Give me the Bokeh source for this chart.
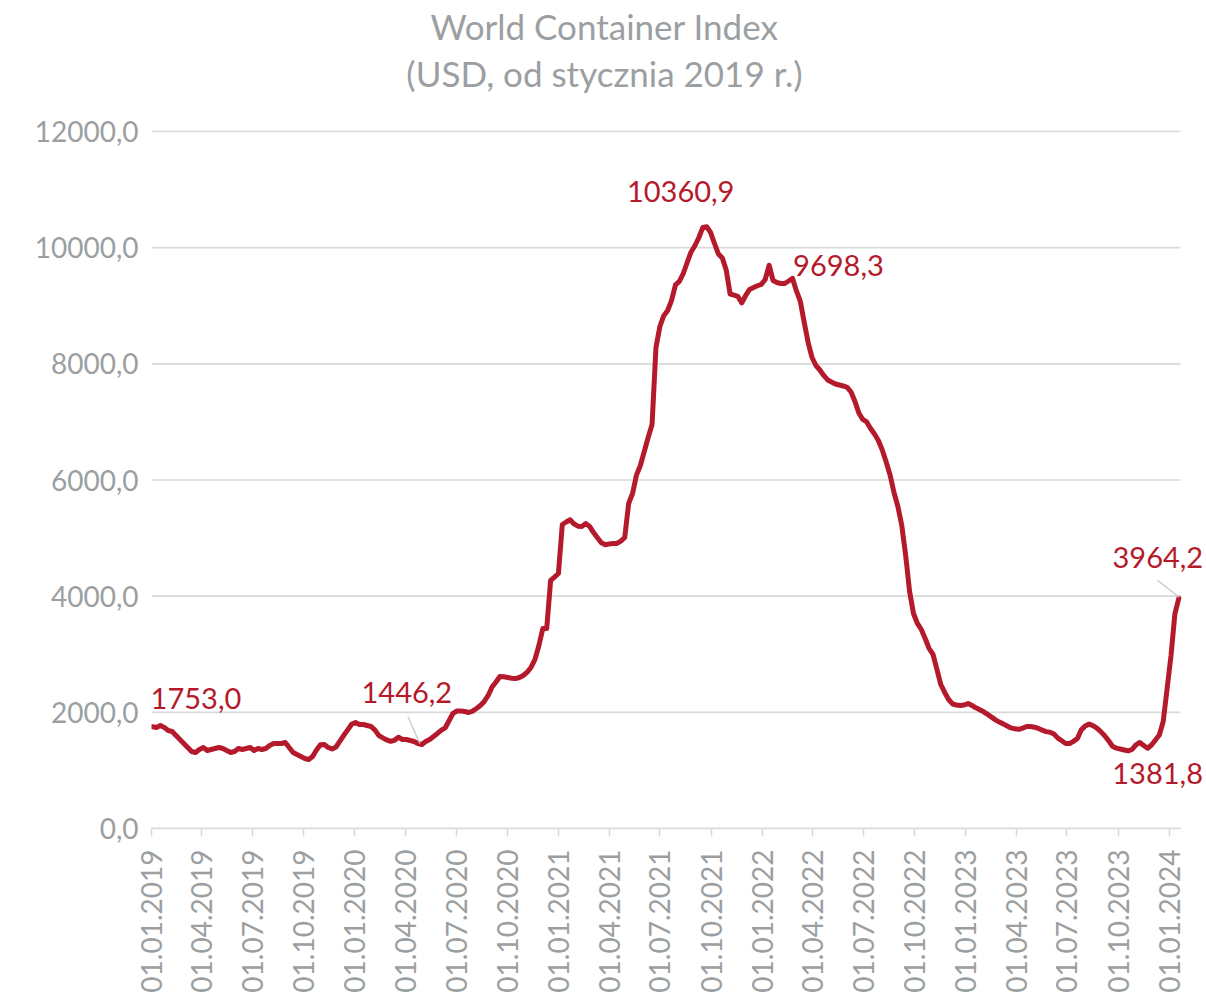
import math
import pandas as pd
from bokeh.plotting import figure
from bokeh.models import ColumnDataSource, Range1d, FixedTicker, DatetimeTickFormatter, Label
from bokeh.embed import file_html
from bokeh.resources import INLINE

# ---------------- data ----------------
title_line1 = "World Container Index"
title_line2 = "(USD, od stycznia 2019 r.)"

first_week = "2019-01-03"   # weekly readings (Thursdays)

wci_2019 = [1753.0, 1740, 1773, 1740, 1687, 1670, 1600, 1532, 1463, 1395, 1325, 1308, 1360,
            1395, 1343, 1360, 1377, 1395, 1377, 1343, 1308, 1325, 1377, 1360, 1377, 1395,
            1343, 1377, 1360, 1377, 1429, 1463, 1463, 1463, 1481, 1395, 1308, 1274, 1240,
            1205, 1188, 1240, 1353, 1441, 1446, 1395, 1370, 1403, 1503, 1605, 1698, 1794]
wci_2020 = [1825, 1791, 1791, 1773, 1756, 1694, 1599, 1561, 1525, 1501, 1519, 1572, 1532,
            1532, 1515, 1498, 1463, 1446.2, 1498, 1532, 1584, 1636, 1694, 1734, 1860, 1983,
            2023, 2023, 2014, 1997, 2021, 2066, 2118, 2187, 2290, 2436, 2522, 2617, 2612,
            2600, 2588, 2581, 2600, 2634, 2691, 2777, 2913, 3151, 3443, 3443, 4270, 4327, 4390]
wci_2021 = [5234, 5277, 5315, 5244, 5205, 5200, 5250, 5201, 5095, 5007, 4919, 4885, 4900,
            4907, 4907, 4948, 5010, 5596, 5768, 6083, 6250, 6491, 6732, 6956, 8281, 8643,
            8829, 8918, 9091, 9358, 9418, 9555, 9745, 9926, 10037, 10175, 10348, 10360.9, 10261,
            10072, 9893, 9824, 9617, 9202, 9183, 9160, 9050, 9177, 9280, 9314, 9344, 9368]
wci_2022 = [9452, 9698.3, 9435, 9400, 9383, 9383, 9426, 9470, 9254, 9074, 8712, 8367, 8109,
            7971, 7894, 7800, 7722, 7686, 7653, 7636, 7619, 7596, 7515, 7352, 7154, 7042,
            6999, 6887, 6792, 6680, 6517, 6310, 6086, 5785, 5544, 5217, 4700, 4080, 3702,
            3530, 3426, 3271, 3099, 2996, 2738, 2479, 2342, 2221, 2144, 2126, 2118, 2126]
wci_2023 = [2152, 2118, 2078, 2045, 2009, 1964, 1918, 1870, 1832, 1801, 1766, 1732, 1716,
            1708, 1729, 1756, 1756, 1744, 1722, 1694, 1668, 1658, 1625, 1556, 1510, 1463,
            1463, 1500, 1550, 1698, 1766, 1797, 1772, 1729, 1668, 1598, 1510, 1417, 1383,
            1369, 1352, 1336, 1360, 1441, 1481, 1429, 1381.8, 1438, 1524, 1610, 1842, 2410]
wci_2024 = [2979, 3700, 3964.2]

annotated_values = [1753.0, 1446.2, 10360.9, 9698.3, 1381.8, 3964.2]

x_start = "2019-01-01"
x_end = "2024-01-21"
tick_first = "2019-01-01"
tick_last = "2024-01-01"
y_ticks = [0, 2000, 4000, 6000, 8000, 10000, 12000]
y_max = 12000

# ---------------- styling / layout ----------------
RED = "#B41A2C"
GREY = "#9b9fa2"
GRID = "#d9d9d9"
FONT = "Lato"

W, H = 1206, 994
PLOT_L, PLOT_R, PLOT_T, PLOT_B = 151, 1180, 131, 828   # visible plot area (px)

wci = wci_2019 + wci_2020 + wci_2021 + wci_2022 + wci_2023 + wci_2024
dates = pd.date_range(first_week, periods=len(wci), freq="7D")
src = ColumnDataSource(data=dict(date=dates, wci=wci))


def ms(ts):
    return pd.Timestamp(ts).timestamp() * 1000.0


x0, x1 = ms(x_start), ms(x_end)
ticks_ms = [ms(t) for t in pd.date_range(tick_first, tick_last, freq="QS")]

# frame extends to the right and top edges so texts there are not clipped
px_per_ms = (PLOT_R - PLOT_L) / (x1 - x0)
val_per_px = y_max / (PLOT_B - PLOT_T)
frame_w = W - PLOT_L
frame_h = PLOT_B
x_range_end = x1 + (W - PLOT_R) / px_per_ms
y_range_end = frame_h * val_per_px

p = figure(frame_width=frame_w, frame_height=frame_h,
           min_border_left=PLOT_L, min_border_right=0,
           min_border_top=0, min_border_bottom=H - PLOT_B,
           x_axis_type="datetime",
           x_range=Range1d(x0, x_range_end), y_range=Range1d(0, y_range_end),
           output_backend="svg", toolbar_location=None, title=None)

p.background_fill_color = "white"
p.border_fill_color = "white"
p.outline_line_color = None

# grid (drawn manually so it stops at the end of the axis)
p.xgrid.grid_line_color = None
p.ygrid.grid_line_color = None
p.segment(x0=[x0] * len(y_ticks), x1=[x1] * len(y_ticks), y0=y_ticks, y1=y_ticks,
          line_color=GRID, line_width=1.6)

# y axis
p.yaxis.ticker = FixedTicker(ticks=y_ticks)
p.yaxis.major_label_overrides = {t: f"{t:.1f}".replace(".", ",") for t in y_ticks}
p.yaxis.axis_line_color = None
p.yaxis.major_tick_line_color = None
p.yaxis.minor_tick_line_color = None
p.yaxis.major_label_text_color = GREY
p.yaxis.major_label_text_font = FONT
p.yaxis.major_label_text_font_size = "28px"
p.yaxis.major_label_standoff = 7

# x axis
fmt = "%d.%m.%Y"
p.xaxis.ticker = FixedTicker(ticks=ticks_ms)
p.xaxis.bounds = (x0, x1)
p.xaxis.formatter = DatetimeTickFormatter(milliseconds=fmt, seconds=fmt, minsec=fmt, minutes=fmt,
                                          hourmin=fmt, hours=fmt, days=fmt, months=fmt, years=fmt)
p.xaxis.axis_line_color = GRID
p.xaxis.axis_line_width = 1.6
p.xaxis.major_tick_line_color = GRID
p.xaxis.major_tick_line_width = 1.6
p.xaxis.major_tick_in = 0
p.xaxis.major_tick_out = 8
p.xaxis.minor_tick_line_color = None
p.xaxis.major_label_orientation = math.pi / 2
p.xaxis.major_label_text_color = GREY
p.xaxis.major_label_text_font = FONT
p.xaxis.major_label_text_font_size = "28px"
p.xaxis.major_label_standoff = 13

# line
p.line("date", "wci", source=src, line_width=5, line_color=RED,
       line_join="round", line_cap="round")

dates_ms = [ms(d) for d in dates]


def at(i, dx, dy):
    return dates_ms[i] + dx / px_per_ms, wci[i] + dy * val_per_px


def txt(v):
    return f"{v:.1f}".replace(".", ",")


# data labels: (value, dx px, dy px up, align)
label_specs = [
    (annotated_values[0], -2, 28, "left"),
    (annotated_values[1], -15, 52, "center"),
    (annotated_values[2], -26, 35, "center"),
    (annotated_values[3], 24, 0, "left"),
    (annotated_values[4], 10, -25, "center"),
    (annotated_values[5], -21, 41, "center"),
]
for v, dx, dy, al in label_specs:
    i = wci.index(v)
    lx, ly = at(i, dx, dy)
    p.add_layout(Label(x=lx, y=ly, text=txt(v), text_align=al, text_baseline="middle",
                       text_font=FONT, text_font_size="29px", text_color=RED))

# leader lines
leaders = [(annotated_values[1], (-14, 28), (-2, 1)),
           (annotated_values[5], (-21.5, 18), (0.5, 1))]
sx0, sy0, sx1, sy1 = [], [], [], []
for v, a, b in leaders:
    i = wci.index(v)
    ax_, ay_ = at(i, *a)
    bx_, by_ = at(i, *b)
    sx0.append(ax_); sy0.append(ay_); sx1.append(bx_); sy1.append(by_)
p.segment(x0=sx0, y0=sy0, x1=sx1, y1=sy1, line_color="#c8c8c8", line_width=1.3)

# title (two centred lines above the plot area)
tx = x0 + (604 - PLOT_L) / px_per_ms
for line_txt, ty_px in [(title_line1, 25), (title_line2, 72)]:
    p.add_layout(Label(x=tx, y=(PLOT_B - ty_px) * val_per_px,
                       text=line_txt, text_align="center", text_baseline="middle",
                       text_font=FONT, text_font_size="35px", text_color=GREY))

open("out.html", "w").write(file_html(p, INLINE))
